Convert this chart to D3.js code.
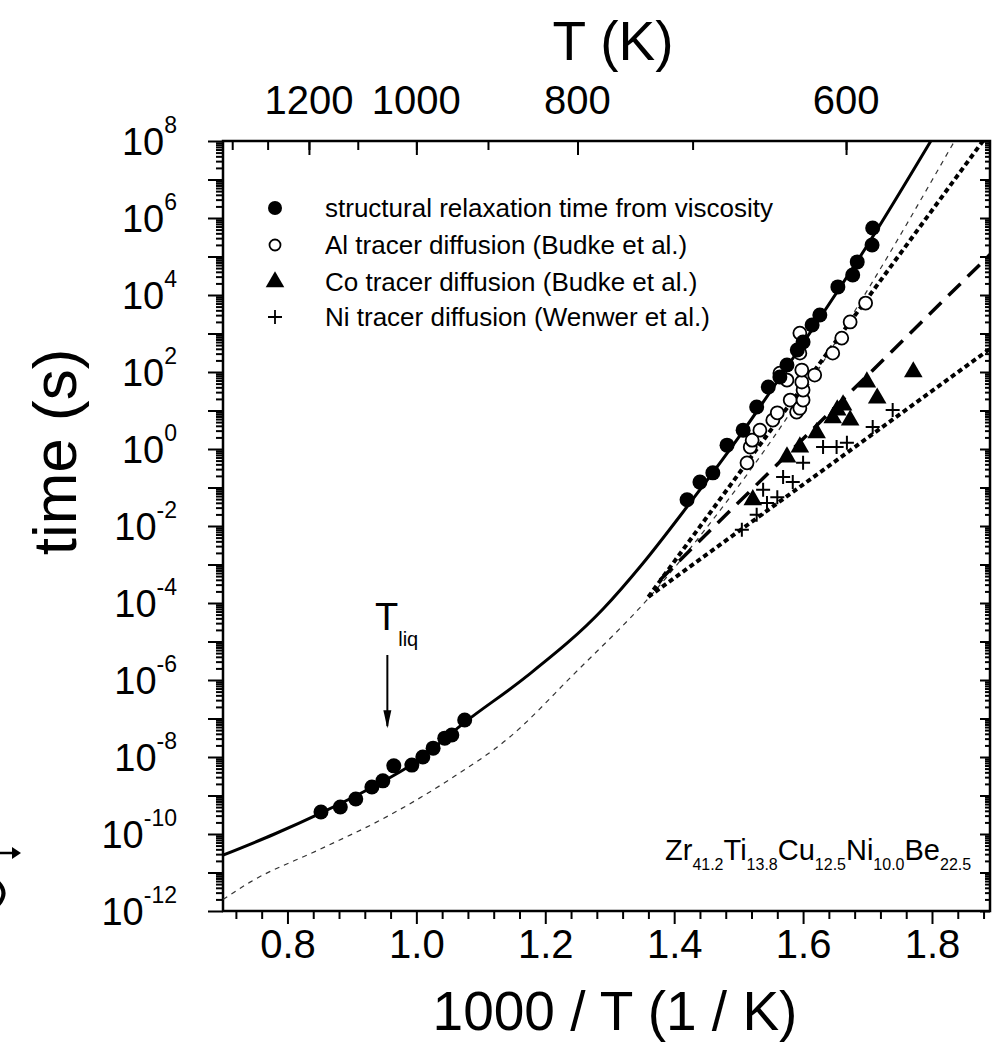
<!DOCTYPE html>
<html>
<head>
<meta charset="utf-8">
<script src="https://cdnjs.cloudflare.com/ajax/libs/d3/7.8.5/d3.min.js"></script>
<style>
  body { margin: 0; background: #fff; }
  text { font-family: "Liberation Sans", Arial, sans-serif; fill: #000; }
</style>
</head>
<body>
<svg id="chart" width="998" height="1054"></svg>
<script>
// x = 1000/T (1/K), y = log10(time / s)
var relaxation = [[0.852,-9.43],[0.882,-9.30],[0.906,-9.09],[0.931,-8.78],[0.948,-8.62],[0.965,-8.23],
  [0.993,-8.21],[1.010,-8.00],[1.026,-7.77],[1.044,-7.51],[1.055,-7.43],[1.075,-7.04],
  [1.420,-1.32],[1.440,-0.86],[1.460,-0.62],[1.482,0.10],[1.507,0.49],[1.528,1.09],[1.546,1.61],
  [1.564,1.87],[1.575,2.18],[1.591,2.57],[1.600,2.78],[1.614,3.22],[1.626,3.48],[1.654,4.21],
  [1.677,4.52],[1.684,4.86],[1.707,5.30],[1.708,5.74]];
var alTracer = [[1.513,-0.36],[1.518,0.05],[1.521,0.23],[1.533,0.49],[1.553,0.75],[1.560,0.94],
  [1.564,1.97],[1.575,1.79],[1.580,1.27],[1.590,0.96],[1.595,1.06],[1.600,1.27],[1.600,1.53],
  [1.598,1.74],[1.598,2.05],[1.595,2.49],[1.595,3.01],[1.618,1.92],[1.646,2.49],[1.660,2.88],
  [1.673,3.30],[1.697,3.79]];
var coTracer = [[1.522,-1.32],[1.575,-0.21],[1.595,0.05],[1.621,0.42],[1.646,0.81],[1.653,1.01],
  [1.662,1.14],[1.673,0.75],[1.699,1.74],[1.715,1.32],[1.771,2.0]];
var niTracer = [[1.505,-2.10],[1.528,-1.71],[1.538,-1.06],[1.544,-1.40],[1.560,-1.25],[1.569,-0.73],
  [1.584,-0.86],[1.600,-0.36],[1.631,0.05],[1.652,0.05],[1.668,0.16],[1.708,0.57],[1.739,1.01]];

// fit curves
var vftFit = [[0.70,-10.55],[0.78,-10.0],[0.85,-9.47],[0.93,-8.8],[1.0,-8.12],[1.075,-7.1],[1.17,-5.92],
  [1.29,-4.15],[1.35,-3.0],[1.42,-1.5],[1.5,0.3],[1.6,2.75],[1.7,5.3],[1.8,8.05]];
var thinFit = [[0.70,-11.7],[0.742,-11.25],[0.85,-10.4],[0.944,-9.64],[1.05,-8.6],[1.145,-7.48],
  [1.243,-5.87],[1.362,-3.84],[1.45,-2.05],[1.55,0.2],[1.699,4.1],[1.835,8.0]];
var alFit = [[1.36,-3.84],[1.879,8.0]];
var coFit = [[1.378,-3.40],[1.89,5.05]];
var niFit = [[1.36,-3.84],[1.89,2.6]];

var xTicks = [0.8, 1.0, 1.2, 1.4, 1.6, 1.8];
var yTickExps = [8, 6, 4, 2, 0, -2, -4, -6, -8, -10, -12];
var tempTicks = [1400, 1300, 1200, 1100, 1000, 900, 800, 700, 600];
var tempLabels = [1200, 1000, 800, 600];
var legendItems = ["structural relaxation time from viscosity",
  "Al tracer diffusion (Budke et al.)",
  "Co tracer diffusion (Budke et al.)",
  "Ni tracer diffusion (Wenwer et al.)"];

var L = 223, R = 990, T = 141, B = 911;
var svg = d3.select("#chart");
var x = d3.scaleLinear().domain([0.7, 1.89]).range([L, R]);
var y = d3.scaleLog().domain([1e-12, 1e8]).range([B, T]);
var px = function(d) { return x(d[0]); };
var py = function(d) { return y(Math.pow(10, d[1])); };

svg.append("defs").append("clipPath").attr("id", "plot")
  .append("rect").attr("x", L).attr("y", T).attr("width", R - L).attr("height", B - T);

// minor tick values
var minorX = d3.range(0.72, 1.885, 0.04).filter(function(v) { return Math.abs(v * 5 - Math.round(v * 5)) > 0.01; });
var decades = d3.range(-12, 9).map(function(e) { return Math.pow(10, e); });
var minorY = [];
d3.range(-12, 8).forEach(function(e) { for (var k = 2; k < 10; k++) minorY.push(k * Math.pow(10, e)); });

// bottom axis
var gx = svg.append("g").attr("transform", "translate(0," + B + ")")
  .call(d3.axisBottom(x).tickValues(xTicks).tickSize(13).tickPadding(6).tickFormat(d3.format(".1f")));
svg.append("g").attr("transform", "translate(0," + B + ")")
  .call(d3.axisBottom(x).tickValues(minorX).tickSize(8).tickFormat(""));
gx.selectAll("text").style("font-size", "40px");

// left axis (labels drawn separately)
svg.append("g").attr("transform", "translate(" + L + ",0)")
  .call(d3.axisLeft(y).tickValues(decades).tickSize(15).tickFormat(""));
svg.append("g").attr("transform", "translate(" + L + ",0)")
  .call(d3.axisLeft(y).tickValues(minorY).tickSize(7).tickFormat(""));
// right axis, inward ticks
svg.append("g").attr("transform", "translate(" + R + ",0)")
  .call(d3.axisLeft(y).tickValues(decades).tickSize(10).tickFormat(""));
svg.append("g").attr("transform", "translate(" + R + ",0)")
  .call(d3.axisLeft(y).tickValues(minorY).tickSize(5).tickFormat(""));

// top axis: temperature, ticks pointing into the plot
svg.append("g").attr("transform", "translate(0," + T + ")")
  .call(d3.axisBottom(x).tickValues(tempTicks.map(function(t) { return 1000 / t; }))
    .tickSize(9).tickFormat(""));
svg.append("g").attr("transform", "translate(0," + T + ")")
  .call(d3.axisBottom(x).tickValues(tempLabels.map(function(t) { return 1000 / t; }))
    .tickSize(14).tickFormat(""));
svg.selectAll(".domain").remove();
svg.selectAll(".tick line").attr("stroke", "#000").attr("stroke-width", 2);

svg.append("g").selectAll("text").data(tempLabels).enter().append("text")
  .attr("x", function(t) { return x(1000 / t); }).attr("y", 114)
  .attr("text-anchor", "middle").style("font-size", "40px")
  .text(function(t) { return t; });

// y labels 10^n
var yl = svg.append("g").selectAll("text").data(yTickExps).enter().append("text")
  .attr("x", 177).attr("y", function(e) { return y(Math.pow(10, e)) + 14; })
  .attr("text-anchor", "end").style("font-size", "38px");
yl.append("tspan").text("10");
yl.append("tspan").attr("dy", -22).style("font-size", "23px").text(function(e) { return e; });

// frame
svg.append("rect").attr("x", L).attr("y", T).attr("width", R - L).attr("height", B - T)
  .attr("fill", "none").attr("stroke", "#000").attr("stroke-width", 2.5);

// fit lines
var line = d3.line().x(px).y(py).curve(d3.curveMonotoneX);
var lines = svg.append("g").attr("clip-path", "url(#plot)").attr("fill", "none").attr("stroke", "#000");
lines.append("path").datum(thinFit).attr("d", line).attr("stroke", "#333")
  .attr("stroke-width", 1.2).attr("stroke-dasharray", "5,5");
lines.append("path").datum(alFit).attr("d", line).attr("stroke-width", 4).attr("stroke-dasharray", "5,3.5");
lines.append("path").datum(niFit).attr("d", line).attr("stroke-width", 4).attr("stroke-dasharray", "5,3.5");
lines.append("path").datum(coFit).attr("d", line).attr("stroke-width", 3.5).attr("stroke-dasharray", "17,10");
lines.append("path").datum(vftFit).attr("d", line).attr("stroke-width", 3);

// markers
var marks = svg.append("g");
marks.selectAll(".al").data(alTracer).enter().append("circle")
  .attr("cx", px).attr("cy", py).attr("r", 6.5).attr("fill", "#fff").attr("stroke", "#000").attr("stroke-width", 1.8);
marks.selectAll(".vis").data(relaxation).enter().append("circle")
  .attr("cx", px).attr("cy", py).attr("r", 7.5).attr("fill", "#000");
var tri = d3.symbol().type(d3.symbolTriangle).size(150);
marks.selectAll(".co").data(coTracer).enter().append("path")
  .attr("d", tri).attr("transform", function(d) { return "translate(" + px(d) + "," + py(d) + ")"; });
var plus = "M-7,0H7M0,-7V7";
marks.selectAll(".ni").data(niTracer).enter().append("path")
  .attr("d", plus).attr("stroke", "#000").attr("stroke-width", 2)
  .attr("transform", function(d) { return "translate(" + px(d) + "," + py(d) + ")"; });

// legend
var lg = svg.append("g");
var rows = [208, 245, 282, 317];
lg.append("circle").attr("cx", 275).attr("cy", rows[0]).attr("r", 7).attr("fill", "#000");
lg.append("circle").attr("cx", 275).attr("cy", rows[1]).attr("r", 5.5).attr("fill", "#fff")
  .attr("stroke", "#000").attr("stroke-width", 1.8);
lg.append("path").attr("d", tri).attr("transform", "translate(275," + rows[2] + ")");
lg.append("path").attr("d", plus).attr("stroke", "#000").attr("stroke-width", 1.8)
  .attr("transform", "translate(275," + rows[3] + ")");
lg.selectAll("text").data(legendItems).enter().append("text")
  .attr("x", 325).attr("y", function(d, i) { return rows[i] + 9; })
  .style("font-size", "26px").text(function(d) { return d; });

// T_liq arrow
var ax = x(0.955);
svg.append("line").attr("x1", ax).attr("x2", ax)
  .attr("y1", y(Math.pow(10, -5.35))).attr("y2", y(Math.pow(10, -7.2)))
  .attr("stroke", "#000").attr("stroke-width", 2);
svg.append("path").attr("d", "M" + (ax - 4) + "," + (y(Math.pow(10, -7.2)) - 16) + "L" + ax + "," +
  y(Math.pow(10, -7.25)) + "L" + (ax + 4) + "," + (y(Math.pow(10, -7.2)) - 16) + "Z").attr("fill", "#000");
var tl = svg.append("text").attr("x", 375).attr("y", 630).style("font-size", "38px");
tl.append("tspan").text("T");
tl.append("tspan").attr("dy", 16).style("font-size", "20px").text("liq");

// composition
var comp = svg.append("text").attr("x", 665).attr("y", 870).style("font-size", "29px");
[["Zr", "41.2"], ["Ti", "13.8"], ["Cu", "12.5"], ["Ni", "10.0"], ["Be", "22.5"]].forEach(function(p) {
  comp.append("tspan").attr("dy", comp.selectAll("tspan").size() ? -10 : 0).text(p[0]);
  comp.append("tspan").attr("dy", 10).style("font-size", "16px").text(p[1]);
});

// axis titles
svg.append("text").attr("x", 613).attr("y", 60).attr("text-anchor", "middle")
  .style("font-size", "55px").text("T (K)");
svg.append("text").attr("x", 615).attr("y", 1030).attr("text-anchor", "middle")
  .style("font-size", "55px").text("1000 / T (1 / K)");
svg.append("text").attr("transform", "translate(76,452) rotate(-90)").attr("text-anchor", "middle")
  .style("font-size", "62px").text("time (s)");

// cropped bits of the neighbouring figure at the left edge
svg.append("line").attr("x1", 0).attr("x2", 14).attr("y1", 853).attr("y2", 853)
  .attr("stroke", "#000").attr("stroke-width", 2.5);
svg.append("path").attr("d", "M12,847L21,853L12,859Z").attr("fill", "#000");
svg.append("path").attr("d", "M-2,882Q9,893 -2,905").attr("fill", "none").attr("stroke", "#000").attr("stroke-width", 4);
</script>
</body>
</html>
